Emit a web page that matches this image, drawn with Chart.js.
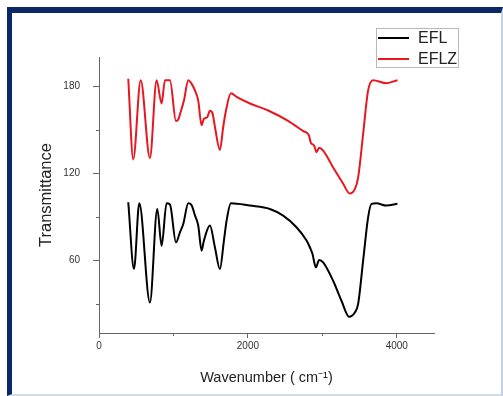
<!DOCTYPE html>
<html><head><meta charset="utf-8">
<script src="https://cdn.jsdelivr.net/npm/chart.js@4.4.1/dist/chart.umd.min.js"></script>
<style>
html,body{margin:0;padding:0;background:#fff;width:503px;height:396px;overflow:hidden}
#frame{position:absolute;left:7px;top:7px;width:496px;height:389px;box-sizing:border-box;border-left:5px solid #0c2768;border-top:6px solid #0c2768;border-right:2px solid #c3d1e6;border-bottom:2px solid #d3dbe5;}
#c{position:absolute;left:0;top:0}
</style></head><body>
<div id="frame"></div>
<canvas id="c" width="503" height="396"></canvas>
<script>
// ---- data ----
const seriesNames = ['EFL', 'EFLZ'];
const xEFL = [393,470,541,684,783,841,908,953,1034,1087,1132,1199,1244,1289,1333,1378,1409,1490,1557,1624,1678,1714,1772,2027,2295,2474,2653,2788,2841,2868,2913,2957,3011,3145,3257,3360,3436,3481,3548,3615,3660,3727,3861,4009];
const yEFL = [100,54,99.3,31,95.4,70,99.3,98.5,72.4,79.3,85,99.3,98,91,84,66.7,73.6,84,69,54,73.6,87.4,99.3,97.7,95.4,90.8,82.8,73.6,68,64.4,55.2,60.3,58.6,46,32.2,21.2,24.1,30,59.8,89.6,98.9,99.3,97.7,98.9];
const xEFLZ = [393,460,560,684,774,841,886,953,1034,1065,1096,1141,1199,1244,1289,1333,1378,1409,1454,1490,1526,1557,1624,1669,1705,1772,1848,2027,2280,2540,2743,2820,2845,2890,2922,2957,3011,3145,3280,3369,3436,3481,3548,3615,3682,3861,4009];
const yEFLZ = [185,129.5,184,130.5,184,168,184,184,156,157,162,170,184,181.5,177,170,153,157.5,158.5,163,161,152,136,152,163,175,172.5,168,163,156,149,146,141,139,134.5,137.5,135.5,124,112.7,106,109,117,147,177,184,182,184];
const xMajorTicks = [0, 2000, 4000];
const xMinorTicks = [1000, 3000];
const yMajorTicks = [60, 120, 180];
const yMinorTicks = [30, 90, 150];
const xLabel = 'Wavenumber ( cm\u207B\u00B9)';
const yLabel = 'Transmittance';

const toPts = (xs, ys) => xs.map((x, i) => ({x, y: ys[i]}));

Chart.defaults.font.family = "'Liberation Sans', Arial, Helvetica, sans-serif";

const minorTicks = {
  id: 'minorTicks',
  afterDraw(chart) {
    const ctx = chart.ctx, a = chart.chartArea;
    const xs = chart.scales.x, ys = chart.scales.y;
    ctx.save();
    ctx.strokeStyle = '#666'; ctx.lineWidth = 1;
    ctx.beginPath();
    xMinorTicks.forEach(v => { const p = Math.round(xs.getPixelForValue(v)) + 0.5; ctx.moveTo(p, a.bottom); ctx.lineTo(p, a.bottom + 3); });
    yMinorTicks.forEach(v => { const p = Math.round(ys.getPixelForValue(v)) + 0.5; ctx.moveTo(a.left - 3, p); ctx.lineTo(a.left, p); });
    ctx.stroke();
    ctx.restore();
  }
};

const boxLegend = {
  id: 'boxLegend',
  afterDraw(chart) {
    const ctx = chart.ctx;
    const bx = 376.5, by = 28.5, bw = 82, bh = 39;
    ctx.save();
    ctx.fillStyle = '#fff';
    ctx.fillRect(bx, by, bw, bh);
    ctx.strokeStyle = '#b8b8b8'; ctx.lineWidth = 1;
    ctx.strokeRect(bx, by, bw, bh);
    ctx.font = "16px 'Liberation Sans', Arial, sans-serif";
    ctx.textBaseline = 'middle'; ctx.textAlign = 'left';
    chart.data.datasets.forEach((ds, i) => {
      const yy = 38 + i * 21;
      ctx.strokeStyle = ds.borderColor; ctx.lineWidth = 2;
      ctx.beginPath(); ctx.moveTo(378, yy); ctx.lineTo(409, yy); ctx.stroke();
      ctx.fillStyle = '#222';
      ctx.fillText(ds.label, 418, yy + 1);
    });
    ctx.restore();
  }
};

new Chart(document.getElementById('c'), {
  type: 'line',
  data: {
    datasets: [
      {label: seriesNames[0], data: toPts(xEFL, yEFL), borderColor: '#000000', borderWidth: 2, pointRadius: 0, cubicInterpolationMode: 'monotone', fill: false},
      {label: seriesNames[1], data: toPts(xEFLZ, yEFLZ), borderColor: '#e8161e', borderWidth: 2, pointRadius: 0, cubicInterpolationMode: 'monotone', fill: false}
    ]
  },
  options: {
    responsive: false,
    animation: false,
    devicePixelRatio: 1,
    layout: {padding: {left: 33, top: 57, right: 69, bottom: 5}},
    plugins: {legend: {display: false}, tooltip: {enabled: false}},
    scales: {
      x: {
        type: 'linear', min: 0, max: 4500,
        afterBuildTicks: s => { s.ticks = xMajorTicks.map(v => ({value: v})); },
        afterFit: s => { s.height = 58; },
        ticks: {color: '#333', font: {size: 10}, padding: 2, maxRotation: 0, autoSkip: false, callback: v => String(v)},
        grid: {drawOnChartArea: false, drawTicks: true, tickLength: 5, color: '#666'},
        border: {display: true, color: '#666', width: 1},
        title: {display: true, text: xLabel, color: '#222', font: {size: 14.5}, padding: {top: 4, bottom: 4}}
      },
      y: {
        type: 'linear', min: 10, max: 200,
        afterBuildTicks: s => { s.ticks = yMajorTicks.map(v => ({value: v})); },
        afterFit: s => { s.width = 66; },
        ticks: {color: '#333', font: {size: 10}, padding: 13, autoSkip: false, callback: v => String(v)},
        grid: {drawOnChartArea: false, drawTicks: true, tickLength: 6, color: '#666'},
        border: {display: true, color: '#666', width: 1},
        title: {display: true, text: yLabel, color: '#222', font: {size: 16.5}, padding: {top: 4, bottom: 4}}
      }
    }
  },
  plugins: [minorTicks, boxLegend]
});
</script>
</body></html>
